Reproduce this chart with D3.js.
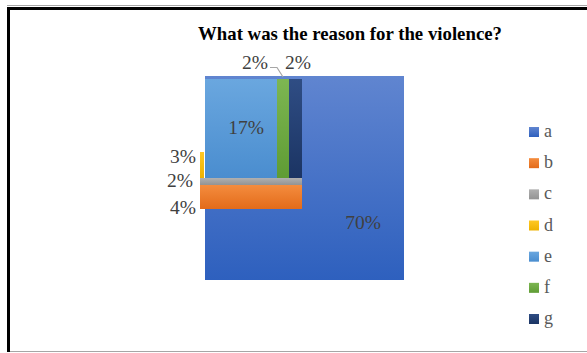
<!DOCTYPE html>
<html>
<head>
<meta charset="utf-8">
<script src="https://cdn.jsdelivr.net/npm/d3@7/dist/d3.min.js"></script>
<style>
  html, body { margin: 0; padding: 0; background: #fff; }
  svg { display: block; }
</style>
</head>
<body>
<script>
// Share of answers per reason
const categories = ["a", "b", "c", "d", "e", "f", "g"];
const values = [70, 4, 2, 3, 17, 2, 2];
const labels = values.map(v => v + "%");
const title = "What was the reason for the violence?";

const colors = {
  a: ["#6085d0", "#2e60be"],
  b: ["#f48c3e", "#e36b1a"],
  c: ["#b0b0b0", "#939393"],
  d: ["#ffc824", "#eeb200"],
  e: ["#6aa7df", "#4a8dcf"],
  f: ["#7db652", "#5f9c34"],
  g: ["#2f4d84", "#1b3463"]
};

const W = 587, H = 353;
const svg = d3.select("body").append("svg").attr("width", W).attr("height", H);

const defs = svg.append("defs");
categories.forEach(c => {
  const g = defs.append("linearGradient").attr("id", "grad-" + c)
    .attr("x1", 0).attr("y1", 0).attr("x2", 0).attr("y2", 1);
  g.append("stop").attr("offset", "0%").attr("stop-color", colors[c][0]);
  g.append("stop").attr("offset", "100%").attr("stop-color", colors[c][1]);
});

// chart frame
svg.append("line").attr("x1", 7).attr("x2", W).attr("y1", 5.5).attr("y2", 5.5)
  .attr("stroke", "#a6a6a6").attr("stroke-width", 1);
svg.append("line").attr("x1", 7).attr("x2", W).attr("y1", 8.5).attr("y2", 8.5)
  .attr("stroke", "#000").attr("stroke-width", 3);
svg.append("line").attr("x1", 8.5).attr("x2", 8.5).attr("y1", 7).attr("y2", 352)
  .attr("stroke", "#000").attr("stroke-width", 3);
svg.append("line").attr("x1", 10).attr("x2", W).attr("y1", 351.5).attr("y2", 351.5)
  .attr("stroke", "#a6a6a6").attr("stroke-width", 1);

svg.append("text").attr("x", 350).attr("y", 40).attr("text-anchor", "middle")
  .attr("font-family", "'Liberation Serif', 'Times New Roman', serif")
  .attr("font-weight", "bold").attr("font-size", 18.8).attr("fill", "#000")
  .text(title);

const val = c => values[categories.indexOf(c)];
const lab = c => labels[categories.indexOf(c)];

// Big block for the leading answer
const aSide = d3.scaleSqrt().domain([0, 70]).range([0, 199]);
const aLeft = 205, aTop = 76;
const aHeight = d3.scaleSqrt().domain([0, 70]).range([0, 204]);

// Column of smaller answers laid side by side (e, f, g)
const colOrder = ["e", "f", "g"];
const colCum = [0];
colOrder.forEach(c => colCum.push(colCum[colCum.length - 1] + val(c)));
const colX = d3.scaleLinear().domain(colCum).range([205, 277, 289, 302]);
const colTop = 79, colBottom = 178;

// Stacked strips below the column (c, then b)
const stackOrder = ["c", "b"];
const stackCum = [0];
stackOrder.forEach(c => stackCum.push(stackCum[stackCum.length - 1] + val(c)));
const stackY = d3.scaleLinear().domain(stackCum).range([178, 185, 209]);

// Thin upright strip for d
const dY = d3.scaleLinear().domain([0, 3]).range([178, 152]);

const rects = [];
rects.push({ c: "a", x: aLeft, y: aTop, w: aSide(val("a")), h: aHeight(val("a")) });
colOrder.forEach((c, i) => rects.push({
  c, x: colX(colCum[i]), y: colTop, w: colX(colCum[i + 1]) - colX(colCum[i]), h: colBottom - colTop
}));
stackOrder.forEach((c, i) => rects.push({
  c, x: 200, y: stackY(stackCum[i]), w: colX(colCum[3]) - 200, h: stackY(stackCum[i + 1]) - stackY(stackCum[i])
}));
rects.push({ c: "d", x: 200, y: dY(val("d")), w: 4, h: dY(0) - dY(val("d")) });

svg.append("g").selectAll("rect").data(rects).join("rect")
  .attr("x", d => d.x).attr("y", d => d.y).attr("width", d => d.w).attr("height", d => d.h)
  .attr("fill", d => "url(#grad-" + d.c + ")");

// data labels
const labelFont = "'Liberation Serif', 'Times New Roman', serif";
const dataLabels = [
  { c: "a", x: 363, y: 229, anchor: "middle" },
  { c: "e", x: 246, y: 134, anchor: "middle" },
  { c: "f", x: 255, y: 69, anchor: "middle" },
  { c: "g", x: 298, y: 69, anchor: "middle" },
  { c: "d", x: 196, y: 163, anchor: "end" },
  { c: "c", x: 193, y: 187, anchor: "end" },
  { c: "b", x: 196, y: 214, anchor: "end" }
];
svg.append("g").selectAll("text").data(dataLabels).join("text")
  .attr("x", d => d.x).attr("y", d => d.y).attr("text-anchor", d => d.anchor)
  .attr("font-family", labelFont).attr("font-size", 19.5).attr("fill", "#404040")
  .text(d => lab(d.c));

// leader line from the f label to its block
const fMid = (colX(colCum[1]) + colX(colCum[2])) / 2;
svg.append("path")
  .attr("d", `M270,67.5 L277,67.5 L${fMid},77`)
  .attr("fill", "none").attr("stroke", "#a6a6a6").attr("stroke-width", 1.2);

// legend
const legY = d3.scalePoint().domain(categories).range([132, 319]);
const leg = svg.append("g").selectAll("g").data(categories).join("g")
  .attr("transform", c => `translate(529,${legY(c)})`);
leg.append("rect").attr("x", 0).attr("y", -5).attr("width", 10).attr("height", 10)
  .attr("fill", c => "url(#grad-" + c + ")");
leg.append("text").attr("x", 15).attr("y", 5)
  .attr("font-family", labelFont).attr("font-size", 18).attr("fill", "#595959")
  .text(c => c);
</script>
</body>
</html>
